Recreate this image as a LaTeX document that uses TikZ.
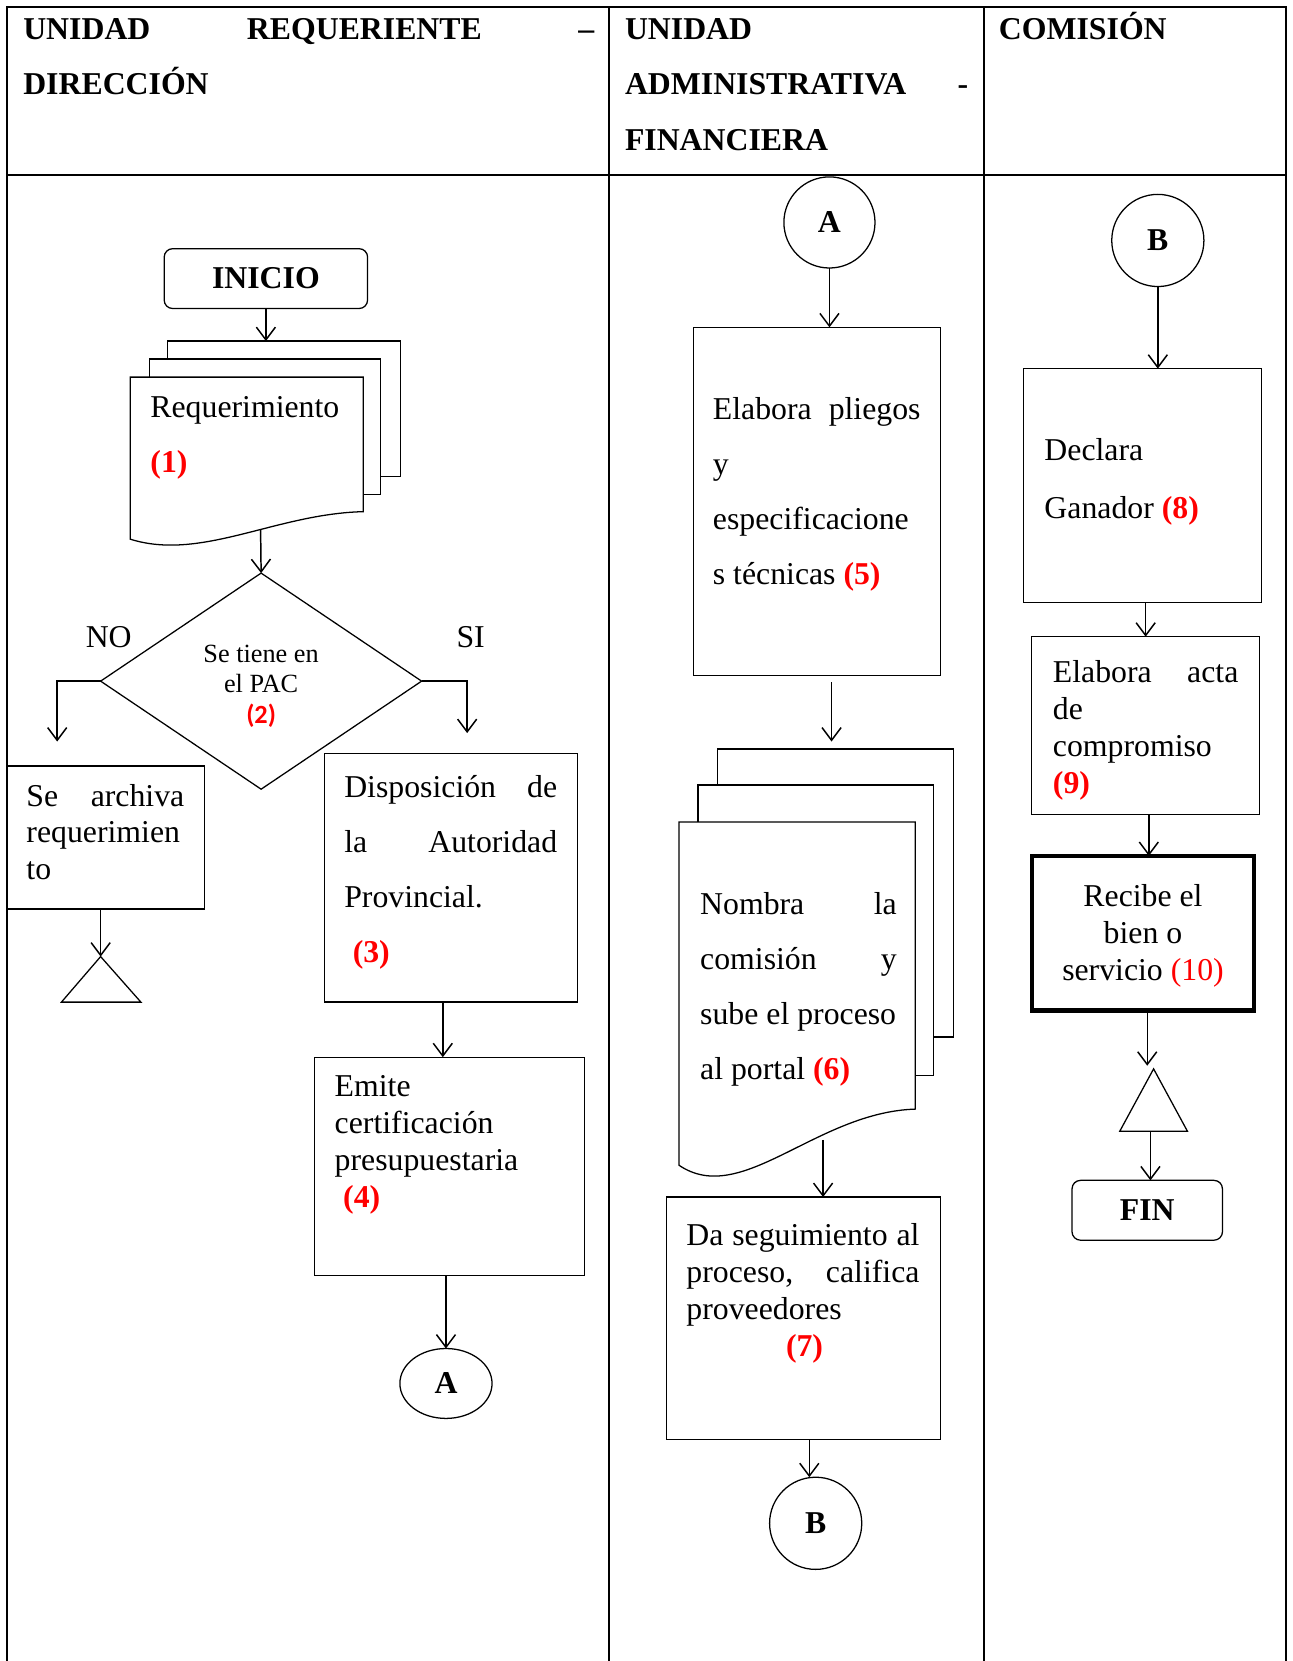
\documentclass[tikz,border=0pt]{standalone}
\usepackage{fontspec}
\setmainfont{Liberation Serif}
\newfontfamily\calibrifont{Carlito}
\usetikzlibrary{arrows.meta,fit,shapes.geometric}

% a block of lines whose baseline is that of its first line
\newcommand{\blk}[2]{\vtop{\hsize=#1\parindent=0pt\parskip=0pt\hyphenpenalty=10000\exhyphenpenalty=10000\raggedright\leavevmode#2\par}}
\newcommand{\cblk}[2]{\vtop{\hsize=#1\parindent=0pt\parskip=0pt\hyphenpenalty=10000\exhyphenpenalty=10000\centering\leavevmode#2\par}}
\newcommand{\stepno}[1]{\textcolor{red}{\bfseries #1}}

\begin{document}
\begin{tikzpicture}[x=0.5pt,y=-0.5pt,
  every node/.style={inner sep=0pt,outer sep=0pt},
  grid/.style={line width=0.9pt},
  box/.style={draw,line width=0.6pt,inner sep=0pt},
  page/.style={draw,fill=white,line width=0.6pt},
  flow/.style={line width=0.7pt,-{Straight Barb[length=6pt,width=9pt]}},
  txt/.style={anchor=base west,font=\fontsize{15pt}{17.5pt}\selectfont},
  txtd/.style={anchor=base west,font=\fontsize{15pt}{26pt}\selectfont},
  hdr/.style={anchor=base west,font=\fontsize{15pt}{26.25pt}\selectfont\bfseries},
  term/.style={box,rounded corners=4pt,font=\fontsize{15pt}{18pt}\selectfont\bfseries},
  conn/.style={draw,line width=0.6pt,font=\fontsize{15pt}{18pt}\selectfont\bfseries},
]
\fill[white] (0,0) rectangle (1220,1568);
\useasboundingbox (0,0) rectangle (1220,1568);

% swimlane table
\draw[grid] (7,1568) -- (7,7) -- (1214,7) -- (1214,1568);
\draw[grid] (7,165) -- (1214,165);
\draw[grid] (575,7) -- (575,1568);
\draw[grid] (929,7) -- (929,1568);

\node[hdr] (hA) at (22,37) {\blk{269.5pt}{UNIDAD\hfill REQUERIENTE\hfill –\\DIRECCIÓN}};
\node[hdr] (hB) at (590,37) {\blk{162pt}{UNIDAD\\ADMINISTRATIVA\hfill -\\FINANCIERA}};
\node[hdr] (hC) at (943,37) {COMISIÓN};

% ---------- lane 1 ----------
\node[term,minimum width=96pt,minimum height=28.25pt] (inicio) at (251,263) {INICIO};

\node[page,fit={(158,322) (378,450)}] (req3) {};
\node[page,fit={(141,339) (359,467)}] (req2) {};
\draw[page] (123,356) -- (343,356) -- (343,483)
  .. controls (260,485) and (190,530) .. (123,509) -- cycle;
\coordinate (reqout) at (246,500);
\node[txtd] (reqtxt) at (142,394) {\blk{100pt}{Requerimiento\\\stepno{(1)}}};

\draw[flow] (inicio.south) -- (inicio.south |- req3.north);

\node[draw,diamond,line width=0.6pt,minimum width=151.5pt,minimum height=102pt] (dec) at (246.5,643) {};
\node[anchor=base,font=\fontsize{12.4pt}{14.5pt}\selectfont] (dectxt) at (246.5,625)
  {\cblk{70pt}{Se tiene en\\el PAC\\{\calibrifont\bfseries\color{red}(2)}}};
\draw[flow] (reqout) -- (dec.north);

\node[txt] (lno) at (81,611) {NO};
\node[txt] (lsi) at (431,611) {SI};

\coordinate (archin) at (54,700);
\coordinate (dispin) at (441,692);
\draw[flow] (dec.west) -| (archin);
\draw[flow] (dec.east) -| (dispin);

\node[box,fit={(7,723) (193,858)}] (arch) {};
\node[txt,font=\fontsize{15pt}{17.25pt}\selectfont] (archtxt) at (25,761)
  {\blk{74.5pt}{Se\hfill archiva\\requerimien\\to}};
\coordinate (tri1) at (95,903);
\draw[line width=0.6pt] (tri1) -- (58,946) -- (133,946) -- cycle;
\draw[flow] (arch.south -| tri1) -- (tri1);

\node[box,fit={(306,711) (545,946)}] (disp) {};
\node[txtd] (disptxt) at (325,753)
  {\blk{100.5pt}{Disposición\hfill de\\la\hfill Autoridad\\Provincial.\\\hspace*{4pt}\stepno{(3)}}};

\node[box,fit={(297,998) (552,1204)}] (emite) {};
\node[txt] (emitetxt) at (316,1035)
  {\blk{115pt}{Emite\\certificación\\presupuestaria\\\hspace*{4pt}\stepno{(4)}}};
\draw[flow] ([xshift=-3.75pt]disp.south) -- ([xshift=-3.75pt]disp.south |- emite.north);

\node[conn,ellipse,minimum width=43.5pt,minimum height=33pt] (ellA) at (421,1306) {A};
\draw[flow] (emite.south -| ellA) -- (ellA.north);

% ---------- lane 2 ----------
\node[conn,circle,minimum size=43pt] (cirA) at (783,210) {A};
\node[box,fit={(655,309) (888,638)}] (b5) {};
\node[txtd] (b5txt) at (673,396)
  {\blk{98pt}{Elabora\hfill pliegos\\y\\especificacione\\s técnicas \stepno{(5)}}};
\draw[flow] (cirA.south) -- (cirA.south |- b5.north);

\node[page,fit={(677,707) (900,979)}] (doc3) {};
\node[page,fit={(659,741) (881,1015)}] (doc2) {};
\draw[page] (641,776) -- (864,776) -- (864,1047)
  .. controls (770,1050) and (700,1140) .. (641,1100) -- cycle;
\node[txtd] (doctxt) at (661,863)
  {\blk{92.75pt}{Nombra\hfill la\\comisión\hfill y\\sube el proceso\\al portal \stepno{(6)}}};
\coordinate (docin) at (785,700);
\draw[flow] (b5.south -| docin) ++(0,6) -- (docin);
\coordinate (docout) at (777,1076);

\node[box,fit={(629,1130) (888,1359)}] (b7) {};
\node[txt] (b7txt) at (648,1176)
  {\blk{110pt}{Da\hfill seguimiento\hfill al\\proceso,\hfill califica\\proveedores\\\hspace*{47pt}\stepno{(7)}}};
\draw[flow] (docout) -- (docout |- b7.north);

\node[conn,circle,minimum size=43.5pt] (cirB2) at (770,1438) {B};
\draw[flow] ([xshift=2.75pt]b7.south) -- ([xshift=2.75pt]b7.south |- cirB2.north);

% ---------- lane 3 ----------
\node[conn,circle,minimum size=43.5pt] (cirB) at (1093,227) {B};
\node[box,fit={(966,348) (1191,569)}] (b8) {};
\node[anchor=base west,font=\fontsize{15pt}{27pt}\selectfont] (b8txt) at (986,435)
  {\blk{100pt}{Declara\\Ganador \stepno{(8)}}};
\draw[flow] (cirB.south) -- (cirB.south |- b8.north);

\node[box,fit={(974,601) (1189,769)}] (b9) {};
\node[txt] (b9txt) at (994,644)
  {\blk{87.5pt}{Elabora\hfill acta\\de\\compromiso\\\stepno{(9)}}};
\draw[flow] (b9.north |- b8.south) -- (b9.north);

\node[box,line width=2pt,fit={(974,808) (1184,954)}] (b10) {};
\node[anchor=base,font=\fontsize{15pt}{17.5pt}\selectfont] (b10txt) at (1079,856)
  {\cblk{100pt}{Recibe el\\bien o\\servicio {\color{red}(10)}}};
\draw[flow] ([xshift=1.5pt]b9.south) -- ([xshift=1.5pt]b9.south |- b10.north);

\coordinate (tri2) at (1089,1009);
\coordinate (t2in) at (1083,1006);
\coordinate (t2base) at (1086,1068);
\draw[line width=0.6pt] (tri2) -- (1057,1068) -- (1121,1068) -- cycle;
\draw[flow] (b10.south -| t2in) -- (t2in);

\node[term,minimum width=71pt,minimum height=28.25pt] (fin) at (1083,1142.5) {FIN};
\draw[flow] (t2base) -- (t2base |- fin.north);
\end{tikzpicture}
\end{document}
